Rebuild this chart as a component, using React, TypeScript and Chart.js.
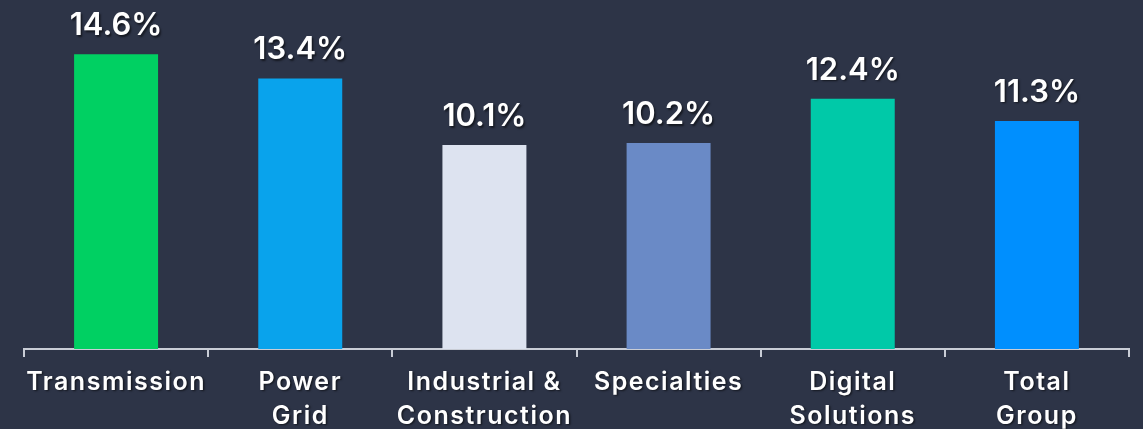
import React, { useEffect, useRef } from "react";
import { Chart, registerables } from "chart.js";

Chart.register(...registerables);

const categories: (string | string[])[] = [
  "Transmission",
  ["Power", "Grid"],
  ["Industrial &", "Construction"],
  "Specialties",
  ["Digital", "Solutions"],
  ["Total", "Group"],
];
const values: number[] = [14.6, 13.4, 10.1, 10.2, 12.4, 11.3];
const valueLabels: string[] = ["14.6%", "13.4%", "10.1%", "10.2%", "12.4%", "11.3%"];
const barColors: string[] = ["#00d062", "#09a3ec", "#dde3f0", "#6a8ac6", "#00c9a8", "#008ffe"];

const BG = "#2d3447";
const FONT = "Inter";

const valueLabelPlugin = {
  id: "valueLabels",
  afterDatasetsDraw(chart: any) {
    const ctx = chart.ctx;
    const meta = chart.getDatasetMeta(0);
    ctx.save();
    ctx.font = `600 31px ${FONT}`;
    ctx.fillStyle = "#ffffff";
    ctx.textAlign = "center";
    ctx.textBaseline = "alphabetic";
    ctx.shadowColor = "rgba(0,0,0,0.55)";
    ctx.shadowOffsetX = 1.5;
    ctx.shadowOffsetY = 1.5;
    ctx.shadowBlur = 2;
    meta.data.forEach((bar: any, i: number) => {
      ctx.fillText(valueLabels[i], bar.x, bar.y - 19);
    });
    ctx.restore();
    // style for tick labels drawn in the next layer
    ctx.shadowColor = "rgba(0,0,0,0.55)";
    ctx.shadowOffsetX = 1.5;
    ctx.shadowOffsetY = 1.5;
    ctx.shadowBlur = 2;
    (ctx as any).letterSpacing = "1.5px";
  },
  afterDraw(chart: any) {
    const ctx = chart.ctx;
    ctx.shadowColor = "rgba(0,0,0,0)";
    ctx.shadowOffsetX = 0;
    ctx.shadowOffsetY = 0;
    ctx.shadowBlur = 0;
    (ctx as any).letterSpacing = "0px";
  },
};

const bgPlugin = {
  id: "bg",
  beforeDraw(chart: any) {
    const ctx = chart.ctx;
    ctx.save();
    ctx.fillStyle = BG;
    ctx.fillRect(0, 0, chart.width, chart.height);
    ctx.restore();
  },
};

export default function App() {
  const ref = useRef<HTMLCanvasElement>(null);
  useEffect(() => {
    document.body.style.margin = "0";
    document.body.style.background = BG;
    const chart = new Chart(ref.current!, {
      type: "bar",
      data: {
        labels: categories,
        datasets: [
          {
            data: values,
            backgroundColor: barColors,
            borderWidth: 0,
            categoryPercentage: 1,
            barPercentage: 0.456,
          },
        ],
      },
      options: {
        animation: false,
        responsive: false,
        maintainAspectRatio: false,
        layout: { padding: { left: 24, right: 14, top: 26, bottom: 0 } },
        plugins: { legend: { display: false }, tooltip: { enabled: false } },
        scales: {
          y: { display: false, min: 0, max: 16 },
          x: {
            afterFit: (scale: any) => {
              scale.height = 80;
            },
            border: { display: true, color: "#c9cdd6", width: 2 },
            grid: {
              display: true,
              drawOnChartArea: false,
              drawTicks: true,
              tickLength: 8,
              color: "#c9cdd6",
              lineWidth: 2,
              offset: true,
            },
            ticks: {
              color: "#ffffff",
              font: { family: FONT, size: 25, weight: "600", lineHeight: 1.36 },
              padding: 8,
              maxRotation: 0,
              autoSkip: false,
              z: 1,
            },
          },
        },
      },
      plugins: [bgPlugin, valueLabelPlugin],
    });
    return () => chart.destroy();
  }, []);
  return <canvas ref={ref} width={1143} height={429} style={{ display: "block" }} />;
}
